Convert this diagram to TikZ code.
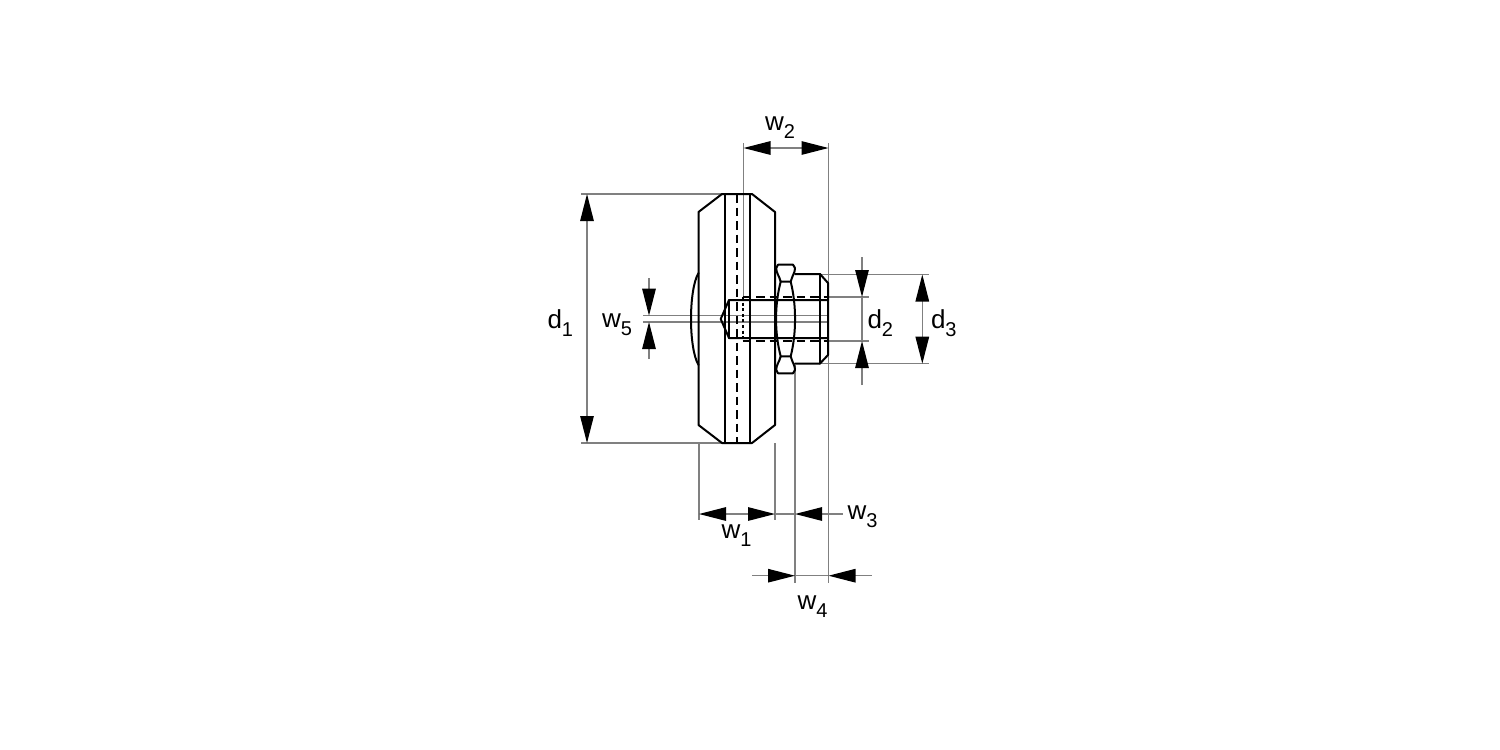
\documentclass[tikz,border=0pt]{standalone}
\usepackage{fontspec}
\setmainfont{Liberation Sans}
\usetikzlibrary{arrows.meta}
\newcommand{\dimlabel}[2]{\fontsize{26}{26}\selectfont #1\raisebox{-8pt}{\fontsize{20}{20}\selectfont #2}}
\tikzset{
  outline/.style={draw=black,line width=2pt,line join=round,line cap=round},
  hidden/.style={draw=black,line width=1.7pt,dash pattern=on 8.5pt off 5pt},
  hiddenfine/.style={draw=black,line width=1.7pt,dash pattern=on 3pt off 2.6pt},
  extline/.style={draw=black!50,line width=1.2pt},
  dimline/.style={draw=black!50,line width=1.2pt},
  headstart/.style={{Triangle[length=27pt,width=13.5pt,black]}-},
  headend/.style={-{Triangle[length=27pt,width=13.5pt,black]}},
  headboth/.style={{Triangle[length=27pt,width=13.5pt,black]}-{Triangle[length=27pt,width=13.5pt,black]}},
  dimtext/.style={anchor=base west,inner sep=0pt,outer sep=0pt,text=black}
}
\begin{document}
\begin{tikzpicture}[x=1pt,y=-1pt]
\useasboundingbox[fill=white] (0,0) rectangle (1500,750);

% extension lines
\draw[extline] (581,194) -- (722,194);
\draw[extline] (581,443) -- (722,443);
\draw[extline] (743.5,143) -- (743.5,297);
\draw[extline] (828.5,143) -- (828.5,583);
\draw[extline] (699,443) -- (699,520);
\draw[extline] (775,443) -- (775,520);
\draw[extline] (795,365) -- (795,583);
\draw[extline] (643,315.7) -- (828,315.7);
\draw[extline] (643,322) -- (828,322);
\draw[extline] (820,274.5) -- (929,274.5);
\draw[extline] (820,363.7) -- (929,363.7);
\draw[extline] (828,297) -- (869,297);
\draw[extline] (828,341) -- (869,341);

% dimensions
\draw[dimline,headboth] (587,194) -- (587,443);
\draw[dimline,headboth] (743.5,148) -- (828.5,148);
\draw[dimline,headboth] (699,514) -- (775,514);
\draw[dimline,headstart] (795,514) -- (843,514);
\draw[dimline] (775,514) -- (795,514);
\draw[dimline,headend] (752,575.7) -- (795,575.7);
\draw[dimline] (795,575.7) -- (828.5,575.7);
\draw[dimline,headstart] (828.5,575.7) -- (872,575.7);
\draw[dimline,headboth] (922.3,274.5) -- (922.3,363.7);
\draw[dimline,headend] (862,257) -- (862,297);
\draw[dimline,headend] (862,385) -- (862,341);
\draw[dimline] (862,297) -- (862,341);
\draw[dimline,headend] (649,278) -- (649,315.7);
\draw[dimline,headend] (649,359) -- (649,322);

% wheel
\draw[outline] (722,194) -- (752,194) -- (775,212) -- (775,425) -- (752,443)
  -- (722,443) -- (698.5,425) -- (698.5,212) -- cycle;
\draw[outline] (724.8,194) -- (724.8,443);
\draw[outline] (749.7,194) -- (749.7,443);
\draw[hidden] (736.7,194) -- (736.7,443);
\draw[outline] (698.5,273) .. controls (688.5,290) and (688.5,348) .. (698.5,365);

% stud
\draw[outline] (828,300) -- (729,300) -- (720.7,319) -- (729,338) -- (828,338);
\draw[outline] (729,300) -- (729,338);
\draw[hidden] (742.7,297) -- (828,297);
\draw[hidden] (742.7,340.7) -- (828,340.7);
\draw[hiddenfine] (742.7,297) -- (742.7,340.7);

% nut
\draw[outline] (780.7,281.7) .. controls (779,275) and (776,273) .. (776.3,268)
  -- (778,264.7) -- (793,264.7) -- (795,268) .. controls (795,273) and (792.4,275) .. (790.7,281.7) -- cycle;
\draw[outline] (780.7,356.3) .. controls (779,363) and (776,365) .. (776.3,370)
  -- (778,373.3) -- (793,373.3) -- (795,370) .. controls (795,365) and (792.4,363) .. (790.7,356.3) -- cycle;
\draw[outline] (780.7,281.7) .. controls (774.5,305) and (774.5,333) .. (780.7,356.3);
\draw[outline] (790.7,281.7) .. controls (796.5,305) and (796.5,333) .. (790.7,356.3);

% shoulder
\draw[outline] (795,274) -- (820,274) -- (828,283) -- (828,355) -- (820,363.5) -- (795,363.5);
\draw[outline] (820,274) -- (820,363.5);

% labels
\node[dimtext] (d1) at (547.5,328) {\dimlabel{d}{1}};
\node[dimtext] (d2) at (867.5,328) {\dimlabel{d}{2}};
\node[dimtext] (d3) at (931,328) {\dimlabel{d}{3}};
\node[dimtext] (w1) at (721.5,538.5) {\dimlabel{w}{1}};
\node[dimtext] (w2) at (765,130) {\dimlabel{w}{2}};
\node[dimtext] (w3) at (847.5,519.5) {\dimlabel{w}{3}};
\node[dimtext] (w4) at (797.5,609.5) {\dimlabel{w}{4}};
\node[dimtext] (w5) at (602,327.5) {\dimlabel{w}{5}};
\end{tikzpicture}
\end{document}
